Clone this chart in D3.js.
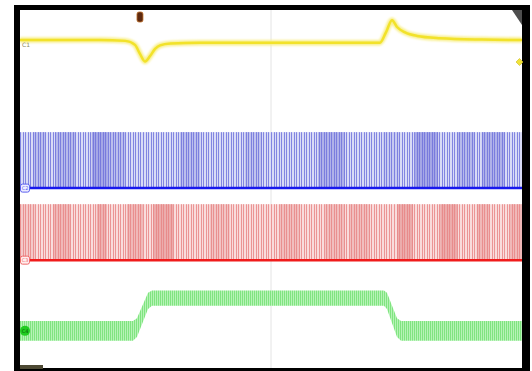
<!DOCTYPE html>
<html>
<head>
<meta charset="utf-8">
<script src="https://cdn.jsdelivr.net/npm/d3@7"></script>
<style>
  body { margin: 0; background: #fff; }
  svg { display: block; }
  text { font-family: "DejaVu Sans", sans-serif; }
</style>
</head>
<body>
<script>
/* Time axis in divisions (0..10), amplitude in divisions (-4..4) */

/* C1 (yellow) analog trace */
var c1Time = [0, 1.59, 2.10, 2.29, 2.39, 2.49, 2.59, 2.69, 2.79, 3.00, 3.59, 4.98, 6.37, 7.17, 7.29, 7.41, 7.51, 7.67, 7.91, 8.37, 9.20, 10];
var c1Volt = [3.33, 3.33, 3.31, 3.22, 3.02, 2.85, 2.97, 3.13, 3.21, 3.25, 3.27, 3.27, 3.27, 3.27, 3.50, 3.77, 3.62, 3.50, 3.42, 3.37, 3.34, 3.33];

/* C2 / C3 pulse trains: low and high level, clock period, shaded aliasing bands [start, end, shade] */
var c2Levels = [0.02, 1.27];
var c3Levels = [-1.59, -0.34];
var clockPeriod = 0.05;
var c2Bands = [
  [0.26, 0.50, 0.5], [0.70, 1.10, 0.6], [1.43, 1.75, 0.9], [1.75, 2.09, 0.5],
  [3.19, 3.59, 0.5], [4.48, 4.82, 0.4], [5.94, 6.47, 0.7], [7.23, 7.57, 0.3],
  [7.87, 8.33, 0.9], [8.71, 9.06, 0.6], [9.20, 9.66, 0.7]
];
var c3Bands = [
  [0.00, 0.30, 0.3], [0.66, 1.00, 0.6], [1.53, 1.73, 0.7], [2.13, 2.45, 0.6],
  [2.65, 3.05, 0.8], [3.78, 4.18, 0.4], [5.18, 5.58, 0.5], [6.08, 6.47, 0.5],
  [6.57, 6.97, 0.5], [7.51, 7.83, 0.8], [8.37, 8.71, 0.8], [9.10, 9.36, 0.6],
  [9.76, 10.0, 0.6]
];

/* C4 (green) envelope: centre level and half thickness */
var c4Time = [0, 2.25, 2.33, 2.55, 2.63, 7.25, 7.31, 7.51, 7.59, 10];
var c4Volt = [-3.17, -3.17, -3.10, -2.50, -2.44, -2.44, -2.50, -3.10, -3.17, -3.17];
var c4Half = [0.22, 0.22, 0.21, 0.18, 0.17, 0.17, 0.18, 0.21, 0.22, 0.22];

var triggerTime = 2.39;

var svg = d3.select("body").append("svg")
    .attr("width", 532)
    .attr("height", 371);

/* frame */
svg.append("rect").attr("x", 14).attr("y", 5).attr("width", 516).attr("height", 366).attr("fill", "#000");
svg.append("rect").attr("x", 20).attr("y", 10).attr("width", 502).attr("height", 358).attr("fill", "#fff");

var x = d3.scaleLinear().domain([0, 10]).range([20, 522]);
var y = d3.scaleLinear().domain([-4, 4]).range([368, 10]);

var defs = svg.append("defs");
defs.append("clipPath").attr("id", "plot")
  .append("rect").attr("x", 20).attr("y", 10).attr("width", 502).attr("height", 358);

var stripes = defs.append("pattern").attr("id", "gstripe")
    .attr("patternUnits", "userSpaceOnUse").attr("width", 2).attr("height", 4);
stripes.append("rect").attr("width", 2).attr("height", 4).attr("fill", "#b6f3b6");
stripes.append("rect").attr("width", 1).attr("height", 4).attr("fill", "#80e480");

var blur = defs.append("filter").attr("id", "soft");
blur.append("feGaussianBlur").attr("stdDeviation", 0.8);

var g = svg.append("g").attr("clip-path", "url(#plot)");

/* centre graticule line */
g.append("line")
    .attr("x1", x(5)).attr("x2", x(5))
    .attr("y1", 10).attr("y2", 368)
    .attr("stroke", "#e4e4e4").attr("stroke-width", 1);

/* pulse trains */
function pulses(levels, bands, base, band, lineCol, edgeCol) {
  var top = y(levels[1]), bot = y(levels[0]);
  g.append("rect")
      .attr("x", x(0)).attr("width", x(10) - x(0))
      .attr("y", top).attr("height", bot - top)
      .attr("fill", base);
  g.selectAll(null).data(bands).enter().append("rect")
      .attr("x", function(d) { return x(d[0]); })
      .attr("width", function(d) { return x(d[1]) - x(d[0]); })
      .attr("y", top).attr("height", bot - top)
      .attr("fill", band)
      .attr("opacity", function(d) { return d[2]; });
  g.selectAll(null).data(d3.range(0, 10, clockPeriod)).enter().append("line")
      .attr("x1", function(d) { return Math.round(x(d)) + 0.5; })
      .attr("x2", function(d) { return Math.round(x(d)) + 0.5; })
      .attr("y1", top).attr("y2", bot)
      .attr("stroke", lineCol).attr("stroke-width", 1).attr("opacity", 0.8);
  g.append("line")
      .attr("x1", x(0)).attr("x2", x(10))
      .attr("y1", bot).attr("y2", bot)
      .attr("stroke", edgeCol).attr("stroke-width", 2.5);
}
pulses(c2Levels, c2Bands, "#d9dbf6", "#9ea1e4", "#6d70dc", "#1818ee");
pulses(c3Levels, c3Bands, "#f9dcdc", "#e9a0a0", "#e88484", "#f01c1c");

/* C4 band */
var c4 = c4Time.map(function(t, i) { return { t: t, v: c4Volt[i], h: c4Half[i] }; });
g.append("path")
    .datum(c4)
    .attr("d", d3.area()
      .x(function(d) { return x(d.t); })
      .y0(function(d) { return y(d.v - d.h); })
      .y1(function(d) { return y(d.v + d.h); }))
    .attr("fill", "url(#gstripe)");

/* C1 trace */
var c1 = c1Time.map(function(t, i) { return { t: t, v: c1Volt[i] }; });
var c1Line = d3.line()
    .x(function(d) { return x(d.t); })
    .y(function(d) { return y(d.v); })
    .curve(d3.curveMonotoneX);
g.append("path").datum(c1).attr("d", c1Line)
    .attr("fill", "none").attr("stroke", "#f8ef8a").attr("stroke-width", 5.5)
    .attr("filter", "url(#soft)");
g.append("path").datum(c1).attr("d", c1Line)
    .attr("fill", "none").attr("stroke", "#f2e22a").attr("stroke-width", 2.5);

/* channel markers */
svg.append("text").attr("x", 22).attr("y", 47)
    .attr("font-size", 6).attr("fill", "#8c8a5a").text("C1");

function chanTag(v, col, fill, label) {
  var cy = y(v);
  svg.append("rect").attr("x", 20.5).attr("y", cy - 4).attr("width", 9).attr("height", 8)
      .attr("rx", 2).attr("fill", fill).attr("stroke", col).attr("stroke-width", 1);
  svg.append("text").attr("x", 25).attr("y", cy + 2)
      .attr("text-anchor", "middle").attr("font-size", 5).attr("fill", col).text(label);
}
chanTag(c2Levels[0], "#5b5ff0", "#eef", "C2");
chanTag(c3Levels[0], "#f06a6a", "#fee", "C3");

svg.append("circle").attr("cx", 25).attr("cy", y(c4Volt[0])).attr("r", 5)
    .attr("fill", "#22cc22");
svg.append("text").attr("x", 25).attr("y", y(c4Volt[0]) + 2)
    .attr("text-anchor", "middle").attr("font-size", 5).attr("fill", "#0a5a0a").text("C4");

/* trigger position marker */
svg.append("rect").attr("x", x(triggerTime) - 3).attr("y", 12).attr("width", 6).attr("height", 10)
    .attr("rx", 2).attr("fill", "#5e2a10").attr("stroke", "#c0702a").attr("stroke-width", 0.8);

/* corner triangle and trigger level marker */
svg.append("path").attr("d", "M512,10L522,10L522,25Z").attr("fill", "#4e4e4e");
svg.append("path").attr("d", "M516,62L519.5,58.5L523,62L519.5,65.5Z")
    .attr("fill", "#f2e43a").attr("stroke", "#c9b820").attr("stroke-width", 0.6);

/* status tag */
svg.append("rect").attr("x", 20).attr("y", 365).attr("width", 23).attr("height", 4).attr("fill", "#4d4933");
</script>
</body>
</html>
